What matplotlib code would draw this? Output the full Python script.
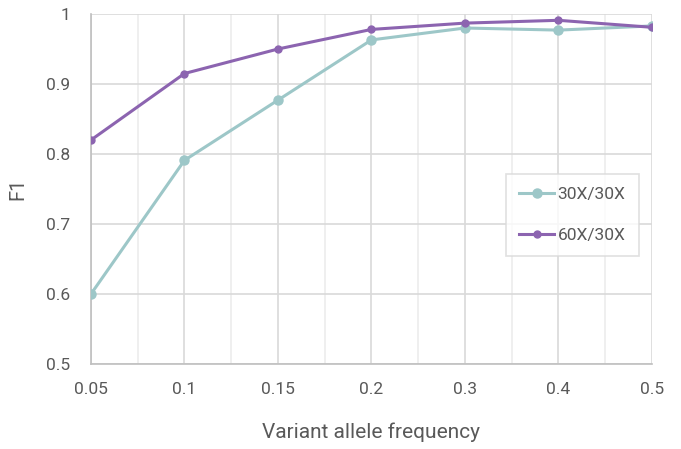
import matplotlib
matplotlib.use('Agg')
import matplotlib.pyplot as plt

# Data
vaf = ['0.05', '0.1', '0.15', '0.2', '0.3', '0.4', '0.5']
f1_30x = [0.600, 0.791, 0.877, 0.963, 0.980, 0.977, 0.983]
f1_60x = [0.820, 0.915, 0.950, 0.978, 0.987, 0.991, 0.981]

plt.rcParams['font.family'] = ['Roboto', 'DejaVu Sans']
text_col = '#595959'

fig = plt.figure(figsize=(6.81, 4.49), dpi=100)
ax = fig.add_axes([0.1336, 0.1893, 0.8238, 0.7795])

x = list(range(len(vaf)))
ax.plot(x, f1_30x, color='#9dc7c8', lw=2.2, marker='o', ms=6.5, label='30X/30X', zorder=3)
ax.plot(x, f1_60x, color='#8c64b0', lw=2.2, marker='o', ms=5, label='60X/30X', zorder=4)

ax.set_xlim(0, len(vaf) - 1)
ax.set_ylim(0.5, 1.0)
ax.set_xticks(x)
ax.set_xticklabels(vaf)
ax.set_xticks([i + 0.5 for i in x[:-1]], minor=True)
ax.set_yticks([0.5, 0.6, 0.7, 0.8, 0.9, 1.0])
ax.set_yticklabels(['0.5', '0.6', '0.7', '0.8', '0.9', '1'])

ax.grid(True, which='major', color='#d9d9d9', lw=1.2)
ax.grid(True, which='minor', axis='x', color='#ececec', lw=1.2)
ax.set_axisbelow(True)
ax.tick_params(which='both', length=0, labelsize=12.5, colors=text_col, labelcolor=text_col)
ax.tick_params(axis='x', pad=13)
ax.tick_params(axis='y', pad=15)
for s in ['top', 'right']:
    ax.spines[s].set_visible(False)
for s in ['left', 'bottom']:
    ax.spines[s].set_color('#bfbfbf')
    ax.spines[s].set_linewidth(1.2)

ax.set_xlabel('Variant allele frequency', fontsize=15, color=text_col, labelpad=18)
ax.set_ylabel('F1', fontsize=14.5, color=text_col, labelpad=13)

leg = ax.legend(loc='center right', bbox_to_anchor=(0.976, 0.425), fontsize=12.5,
                frameon=True, fancybox=False, edgecolor='#d9d9d9', labelspacing=1.5,
                handlelength=2.0, handletextpad=0.2, borderpad=0.75, borderaxespad=0)
for t in leg.get_texts():
    t.set_color(text_col)
leg.get_frame().set_linewidth(1.2)

fig.savefig('out.png', dpi=100)
